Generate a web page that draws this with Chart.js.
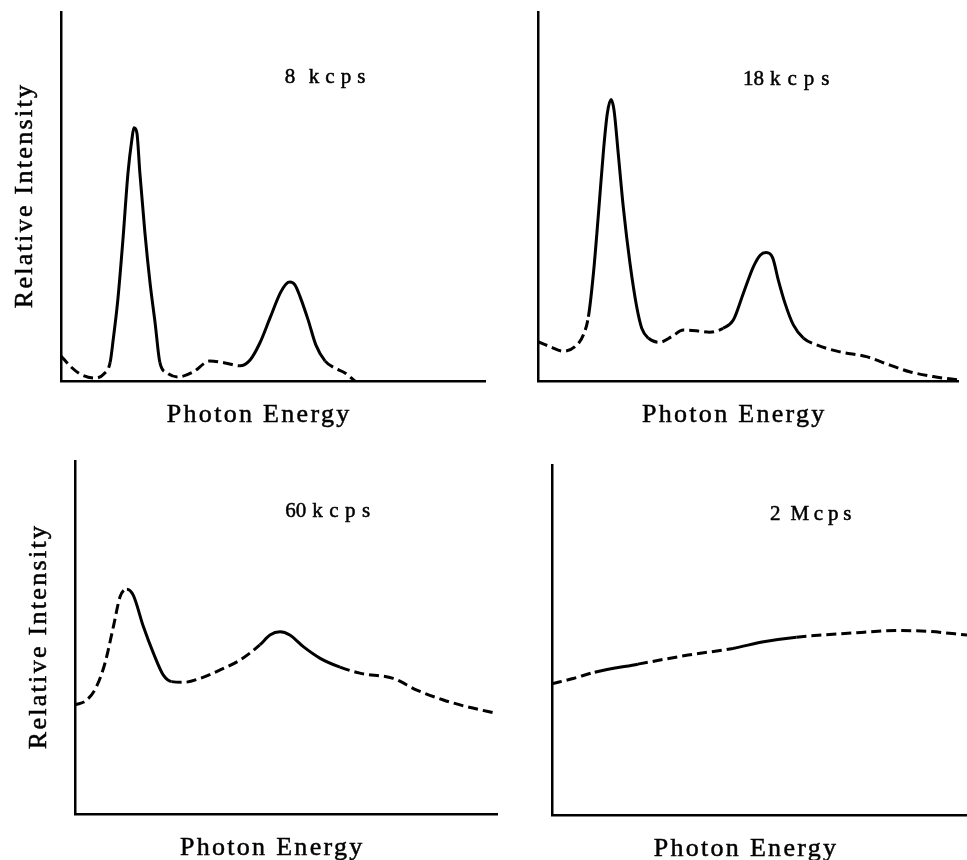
<!DOCTYPE html>
<html>
<head>
<meta charset="utf-8">
<title>Spectra vs. count rate</title>
<script src="https://cdn.jsdelivr.net/npm/chart.js@4"></script>
<style>
  html, body { margin: 0; padding: 0; background: #fff; }
  #wrap { position: relative; width: 967px; height: 860px; overflow: hidden; }
  .panel { position: absolute; }
</style>
</head>
<body>
<div id="wrap">
  <div class="panel" style="left:0;top:0;width:490px;height:430px"><canvas id="c8k"></canvas></div>
  <div class="panel" style="left:490px;top:0;width:477px;height:430px"><canvas id="c18k"></canvas></div>
  <div class="panel" style="left:0;top:430px;width:500px;height:430px"><canvas id="c60k"></canvas></div>
  <div class="panel" style="left:500px;top:430px;width:467px;height:430px"><canvas id="c2M"></canvas></div>
</div>
<script>
// axis titles
const xTitle = 'Photon Energy';
const yTitle = 'Relative Intensity';

// 8 kcps (energy and intensity both on a 0-100 relative scale)
const energy8k = [0, 2.1, 4.5, 8.0, 10.1, 11.6, 12.3, 13.4, 14.6, 15.8, 16.7, 17.2, 17.9, 18.6, 19.8,
  21.0, 22.2, 23.3, 25.0, 27.6, 31.1, 35.1, 38.7, 42.2, 44.6, 46.9, 49.3, 51.7, 53.1, 54.0,
  55.2, 56.4, 58.3, 60.1, 62.3, 64.6, 67.0, 69.3];
const intensity8k = [6.8, 4.1, 1.9, 0.8, 1.9, 5.1, 11.1, 22.0, 38.2, 56.4, 65.3, 68.6, 67.2, 56.4, 40.1,
  26.6, 15.7, 5.1, 2.2, 1.1, 2.4, 5.4, 4.9, 4.1, 5.7, 10.3, 17.1, 23.8, 26.3, 26.8,
  26.0, 22.8, 16.5, 9.8, 5.4, 3.5, 2.2, 0];
// energy ranges drawn as a solid line (the rest is dashed)
const solid8k = [[11.6, 23.3], [42.2, 62.3]];

// 18 kcps
const energy18k = [0, 2.9, 6.0, 8.8, 10.8, 12.0, 13.2, 14.4, 15.6, 16.5, 17.4, 18.1, 19.1, 20.3, 21.9,
  23.5, 24.7, 26.3, 29.0, 31.8, 34.6, 37.7, 40.9, 44.1, 46.5, 48.9, 51.3, 52.9, 54.3, 55.9,
  57.2, 58.8, 60.8, 63.2, 66.3, 71.9, 78.2, 83.8, 88.5, 94.1, 100];
const intensity18k = [10.7, 9.3, 8.1, 9.3, 12.5, 17.4, 29.2, 45.4, 62.6, 72.5, 76.3, 73.4, 61.7, 47.2, 31.9,
  20.1, 14.3, 11.6, 10.5, 12.0, 13.8, 13.6, 13.2, 14.3, 16.5, 23.8, 31.0, 34.1, 34.8, 33.3,
  27.4, 21.1, 15.2, 11.6, 9.8, 7.9, 6.6, 4.3, 2.5, 1.2, 0.3];
const solid18k = [[12.0, 26.3], [44.1, 63.2]];

// 60 kcps
const energy60k = [0, 2.8, 5.1, 7.1, 9.1, 10.7, 12.3, 13.8, 16.2, 18.6, 20.9, 22.9, 25.7, 29.6, 34.4,
  39.1, 43.8, 46.2, 48.6, 50.9, 54.1, 58.1, 62.8, 67.5, 75.4, 81.0, 87.3, 92.8, 100];
const intensity60k = [30.9, 32.3, 36.1, 42.7, 53.1, 61.6, 63.7, 62.0, 53.1, 45.5, 39.4, 37.5, 37.3, 38.4, 40.8,
  43.6, 47.9, 50.7, 51.6, 50.7, 47.4, 44.1, 41.6, 39.9, 38.4, 35.1, 32.3, 30.4, 28.5];
const solid60k = [[12.3, 22.9], [43.8, 62.8]];

// 2 Mcps
const energy2M = [0, 5.1, 10.3, 20.7, 32.8, 43.6, 51.0, 58.9, 71.3, 83.4, 91.4, 100];
const intensity2M = [37.5, 39.0, 40.8, 43.1, 45.7, 47.6, 49.5, 50.8, 51.9, 52.7, 52.4, 51.4];
const solid2M = [[10.3, 20.7], [43.6, 58.9]];

Chart.defaults.font.family = '"Liberation Serif", serif';
Chart.defaults.color = '#000';

function isSolid(ranges, x0, x1) {
  const mid = (x0 + x1) / 2;
  return ranges.some(r => mid >= r[0] && mid <= r[1]);
}

// text with a hairline outline, to get the heavier print look
function printText(ctx, str, x, y) {
  ctx.fillText(str, x, y);
  ctx.strokeText(str, x, y);
}

// axis titles and the count-rate label
const panelText = {
  id: 'panelText',
  afterDraw(chart, args, opts) {
    const {ctx, chartArea, scales} = chart;
    ctx.save();
    ctx.fillStyle = '#000';
    ctx.strokeStyle = '#000';
    ctx.lineWidth = 0.5;
    ctx.textBaseline = 'alphabetic';
    ctx.textAlign = 'left';

    // count rate: number, then the unit with wide letter spacing
    const parts = opts.label.split(' ');
    const x0 = scales.x.getPixelForValue(opts.labelAt[0]);
    const y0 = scales.y.getPixelForValue(opts.labelAt[1]);
    ctx.font = '21px "Liberation Serif"';
    ctx.letterSpacing = '0px';
    printText(ctx, parts[0], x0, y0);
    const numWidth = ctx.measureText(parts[0]).width;
    ctx.letterSpacing = opts.spacing + 'px';
    printText(ctx, parts[1], x0 + numWidth + opts.gap, y0);

    ctx.textAlign = 'center';
    ctx.font = '26px "Liberation Serif"';
    ctx.letterSpacing = '2.3px';
    printText(ctx, xTitle, scales.x.getPixelForValue(46.5) + 1, chartArea.bottom + 41);
    if (opts.showYTitle) {
      ctx.translate(chartArea.left - 29, (chartArea.top + chartArea.bottom) / 2);
      ctx.rotate(-Math.PI / 2);
      printText(ctx, yTitle, 1, 0);
    }
    ctx.restore();
  }
};

function axis() {
  return {
    type: 'linear',
    min: 0,
    max: 100,
    grid: { display: false, drawTicks: false },
    ticks: { display: false },
    border: { display: true, color: '#000', width: 2.5 }
  };
}

function makePanel(id, energy, intensity, solid, text, padding) {
  const points = energy.map((e, i) => ({ x: e, y: intensity[i] }));
  return new Chart(document.getElementById(id), {
    type: 'line',
    data: {
      datasets: [{
        data: points,
        borderColor: '#000',
        borderWidth: 3,
        pointRadius: 0,
        fill: false,
        cubicInterpolationMode: 'monotone',
        borderJoinStyle: 'round',
        segment: {
          borderDash: ctx => isSolid(solid, ctx.p0.parsed.x, ctx.p1.parsed.x) ? [] : [10, 5]
        }
      }]
    },
    options: {
      responsive: true,
      maintainAspectRatio: false,
      animation: false,
      layout: { padding: padding },
      plugins: {
        legend: { display: false },
        tooltip: { enabled: false },
        panelText: text
      },
      scales: { x: axis(), y: axis() }
    },
    plugins: [panelText]
  });
}

makePanel('c8k', energy8k, intensity8k, solid8k,
  { label: '8 kcps', labelAt: [52.8, 80.8], gap: 13.5, spacing: 6, showYTitle: true },
  { left: 61, top: 12, right: 5, bottom: 49 });
makePanel('c18k', energy18k, intensity18k, solid18k,
  { label: '18 kcps', labelAt: [48.8, 80.2], gap: 6, spacing: 7, showYTitle: false },
  { left: 48, top: 12, right: 9, bottom: 49 });
makePanel('c60k', energy60k, intensity60k, solid60k,
  { label: '60 kcps', labelAt: [49.8, 84.1], gap: 6, spacing: 6.5, showYTitle: true },
  { left: 75, top: 31, right: 3, bottom: 46 });
makePanel('c2M', energy2M, intensity2M, solid2M,
  { label: '2 Mcps', labelAt: [52.5, 84.3], gap: 10, spacing: 4.8, showYTitle: false },
  { left: 52, top: 35, right: 0, bottom: 45 });
</script>
</body>
</html>
